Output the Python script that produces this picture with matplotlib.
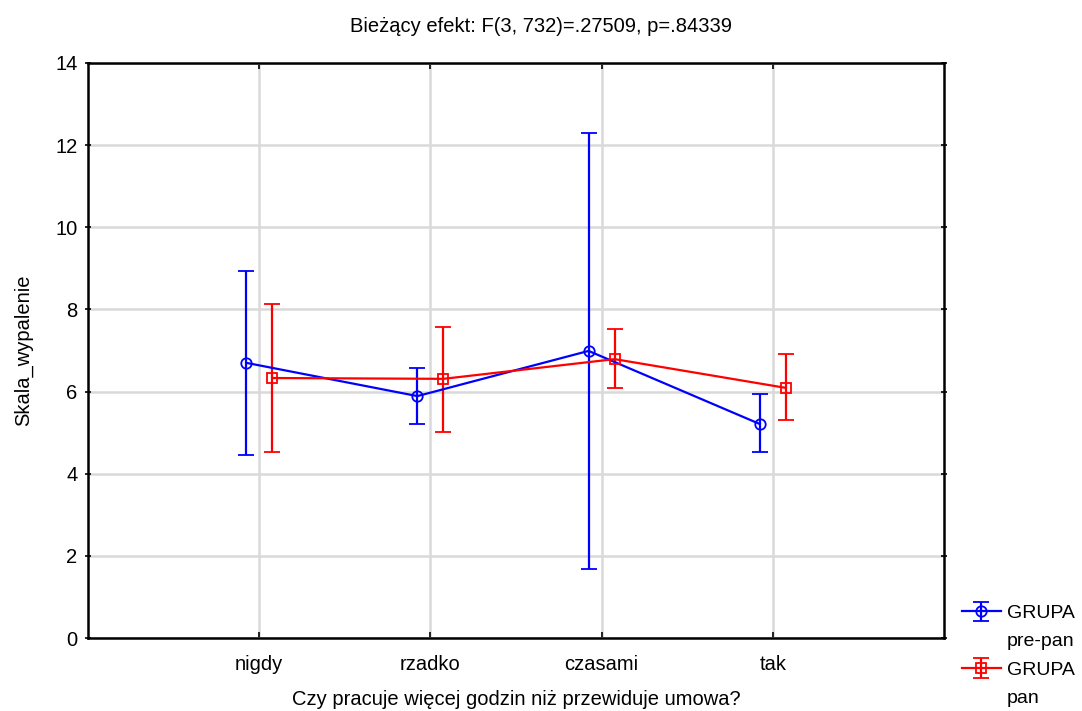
import matplotlib.pyplot as plt
from matplotlib.lines import Line2D
import numpy as np

plt.rcParams['font.family'] = ['Liberation Sans', 'DejaVu Sans']

# Data
categories = ['nigdy', 'rzadko', 'czasami', 'tak']
pre_pan_mean = [6.70, 5.89, 6.99, 5.21]
pre_pan_low = [4.46, 5.21, 1.68, 4.53]
pre_pan_high = [8.94, 6.57, 12.30, 5.94]
pan_mean = [6.33, 6.31, 6.79, 6.09]
pan_low = [4.53, 5.02, 6.09, 5.31]
pan_high = [8.13, 7.57, 7.52, 6.92]

title = 'Bieżący efekt: F(3, 732)=.27509, p=.84339'
FS = 14.5


def plot_group(ax, xs, mean, low, high, color, marker, msize):
    mean = np.array(mean)
    yerr = [mean - np.array(low), np.array(high) - mean]
    return ax.errorbar(xs, mean, yerr=yerr, color=color, marker=marker, markersize=msize,
                       markerfacecolor='none', markeredgewidth=1.3, linewidth=1.6,
                       elinewidth=1.6, capsize=6, capthick=1.6, zorder=3)


fig = plt.figure(figsize=(10.82, 7.11), dpi=100)
ax = fig.add_axes([88 / 1082, 1 - 638 / 711, (944 - 88) / 1082, (638 - 63) / 711])

x = np.arange(1, len(categories) + 1)
off = 0.076
h1 = plot_group(ax, x - off, pre_pan_mean, pre_pan_low, pre_pan_high, '#0000ff', 'o', 7.5)
h2 = plot_group(ax, x + off, pan_mean, pan_low, pan_high, '#ff0000', 's', 7.5)

ax.set_xlim(0, 5)
ax.set_ylim(0, 14)
ax.set_xticks(x)
ax.set_xticklabels(categories, fontsize=FS)
ax.set_yticks(range(0, 15, 2))
ax.tick_params(axis='y', labelsize=FS, direction='inout', length=5, width=1.2, right=True, pad=5)
ax.tick_params(axis='x', direction='in', length=4, width=1.2, top=True, pad=12)
ax.grid(True, color='#d9d9d9', linewidth=1.8, zorder=0)
ax.set_axisbelow(True)
for s in ax.spines.values():
    s.set_linewidth(1.8)

ax.set_xlabel('Czy pracuje więcej godzin niż przewiduje umowa?', fontsize=FS, labelpad=12)
ax.set_ylabel('Skala_wypalenie', fontsize=FS, labelpad=16)
fig.text(0.5, 1 - 26 / 711, title, ha='center', va='center', fontsize=FS)

blank = Line2D([], [], linestyle='none')
fig.legend([h1, blank, h2, blank], ['GRUPA', 'pre-pan', 'GRUPA', 'pan'],
           loc='lower left', bbox_to_anchor=(958 / 1082, 0.0), frameon=False,
           fontsize=14, handlelength=2.0, labelspacing=0.55, handletextpad=0.3,
           borderaxespad=0.0, borderpad=0.2)

fig.savefig('out.png', dpi=100, facecolor='white')
